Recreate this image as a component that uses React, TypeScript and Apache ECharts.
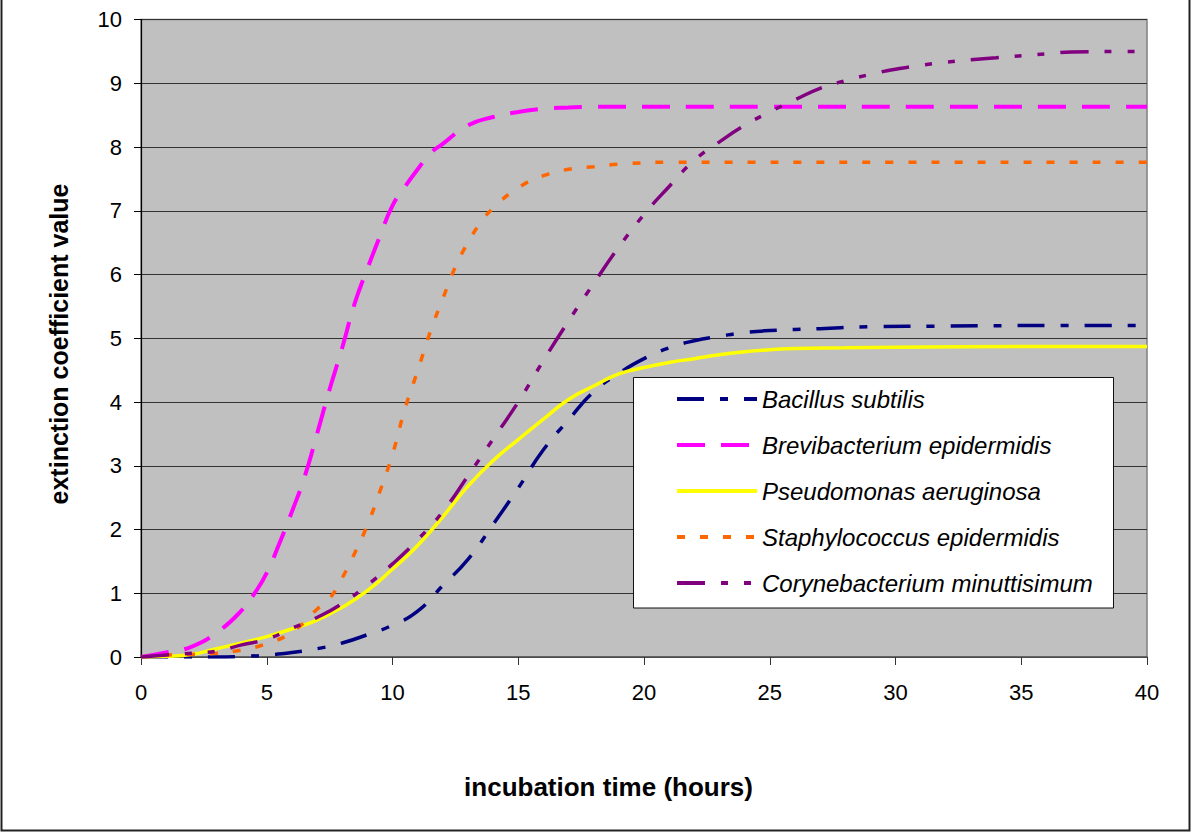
import React, { useEffect, useRef } from "react";
import * as echarts from "echarts";

// ---- data ----
const seriesNames = [
  "Bacillus subtilis",
  "Brevibacterium epidermidis",
  "Pseudomonas aeruginosa",
  "Staphylococcus epidermidis",
  "Corynebacterium minuttisimum",
];

const bacillusT = [0, 1, 2, 3, 4, 5, 6, 7, 8, 9, 10, 11, 12, 13, 14, 15, 16, 17, 18, 19, 20, 21, 22, 23, 24, 25, 27, 29, 32, 36, 40];
const bacillusV = [0, 0, 0, 0, 0.01, 0.03, 0.07, 0.13, 0.22, 0.35, 0.5, 0.72, 1.12, 1.53, 2.08, 2.65, 3.25, 3.72, 4.16, 4.45, 4.68, 4.85, 4.96, 5.03, 5.09, 5.12, 5.15, 5.18, 5.19, 5.2, 5.2];

const brevT = [0, 1, 2, 3, 4, 4.5, 5, 5.5, 6, 6.5, 7, 7.5, 8, 8.5, 9, 9.5, 10, 10.5, 11, 11.5, 12, 13, 14, 15, 16, 17, 18, 25, 32, 40];
const brevV = [0, 0.07, 0.16, 0.38, 0.73, 0.99, 1.32, 1.78, 2.28, 2.82, 3.5, 4.2, 4.85, 5.55, 6.09, 6.6, 7.08, 7.38, 7.65, 7.9, 8.05, 8.34, 8.47, 8.55, 8.6, 8.62, 8.63, 8.63, 8.63, 8.63];

const pseudoT = [0, 1, 2, 3, 4, 5, 6, 7, 8, 9, 10, 11, 12, 13, 14, 15, 16, 17, 18, 19, 20, 21, 22, 23, 24, 25, 26, 28, 30, 35, 40];
const pseudoV = [0, 0.01, 0.04, 0.13, 0.22, 0.32, 0.44, 0.58, 0.78, 1.04, 1.38, 1.75, 2.2, 2.68, 3.08, 3.41, 3.73, 4.04, 4.25, 4.44, 4.54, 4.62, 4.68, 4.74, 4.79, 4.82, 4.84, 4.85, 4.86, 4.87, 4.87];

const staphT = [0, 1, 2, 3, 4, 5, 6, 7, 7.5, 8, 8.5, 9, 9.5, 10, 10.5, 11, 11.5, 12, 12.5, 13, 13.5, 14, 15, 16, 17, 18, 19, 21, 30, 40];
const staphV = [0, 0.03, 0.04, 0.06, 0.11, 0.21, 0.39, 0.75, 0.92, 1.24, 1.63, 2.07, 2.6, 3.18, 3.9, 4.49, 5.1, 5.62, 6.12, 6.5, 6.81, 7.04, 7.36, 7.55, 7.65, 7.69, 7.73, 7.76, 7.76, 7.76];

const coryT = [0, 1, 2, 3, 4, 5, 6, 7, 8, 9, 10, 11, 12, 13, 14, 15, 16, 17, 18, 19, 20, 21, 22, 23, 24, 25, 26, 27, 28, 29, 30, 31, 32, 34, 36, 37, 40];
const coryV = [0, 0.03, 0.06, 0.09, 0.19, 0.28, 0.45, 0.62, 0.84, 1.13, 1.46, 1.84, 2.28, 2.84, 3.42, 4.0, 4.65, 5.27, 5.86, 6.43, 6.94, 7.38, 7.79, 8.08, 8.34, 8.55, 8.74, 8.92, 9.04, 9.14, 9.22, 9.28, 9.33, 9.4, 9.46, 9.49, 9.5];

const xTicks = { min: 0, max: 40, interval: 5 };
const yTicks = { min: 0, max: 10, interval: 1 };

const colors = ["#000080", "#FF00FF", "#FFFF00", "#FF6600", "#800080"];
const dashes: (number[] | "solid")[] = [
  [27, 16, 8, 16],
  [28, 16],
  "solid",
  [8, 15],
  [28, 16, 7, 16, 7, 16],
];

const FONT = "'Liberation Sans', Arial, sans-serif";

function zip(t: number[], v: number[]) {
  return t.map((x, i) => [x, v[i]]);
}

export default function App() {
  const ref = useRef<HTMLDivElement>(null);

  useEffect(() => {
    if (!ref.current) return;
    const chart = echarts.init(ref.current, undefined, { renderer: "svg" });
    const datasets = [
      zip(bacillusT, bacillusV),
      zip(brevT, brevV),
      zip(pseudoT, pseudoV),
      zip(staphT, staphV),
      zip(coryT, coryV),
    ];
    chart.setOption({
      animation: false,
      backgroundColor: "#ffffff",
      grid: {
        left: 141,
        right: 45,
        top: 19.5,
        bottom: 176,
        show: true,
        backgroundColor: "#C0C0C0",
        borderColor: "#808080",
        borderWidth: 1.5,
      },
      xAxis: {
        type: "value",
        min: xTicks.min,
        max: xTicks.max,
        interval: xTicks.interval,
        axisLine: { show: true, lineStyle: { color: "#555555", width: 1.5 } },
        axisTick: { show: true, length: 8, lineStyle: { color: "#333333", width: 1 } },
        axisLabel: { margin: 24, fontSize: 22, color: "#000", fontFamily: FONT },
        splitLine: { show: false },
      },
      yAxis: {
        type: "value",
        min: yTicks.min,
        max: yTicks.max,
        interval: yTicks.interval,
        axisLine: { show: true, lineStyle: { color: "#000000", width: 1.2 } },
        axisTick: { show: true, length: 7, lineStyle: { color: "#000", width: 1 } },
        axisLabel: { margin: 19, fontSize: 22, color: "#000", fontFamily: FONT },
        splitLine: { show: true, lineStyle: { color: "#333333", width: 1.2 } },
      },
      legend: {
        orient: "vertical",
        left: 675,
        top: 387,
        padding: 0,
        itemWidth: 80,
        itemHeight: 24,
        itemGap: 22,
        data: seriesNames,
        itemStyle: { opacity: 0, borderWidth: 0 },
        lineStyle: { width: 4 },
        textStyle: {
          fontSize: 24,
          fontStyle: "italic",
          fontFamily: FONT,
          color: "#000",
          lineHeight: 24,
        },
      },
      graphic: [
        {
          type: "rect",
          z: 3,
          shape: { x: 633.5, y: 377.5, width: 480, height: 230.5 },
          style: { fill: "#ffffff", stroke: "#111111", lineWidth: 1 },
        },
        {
          type: "rect",
          z: 10,
          shape: { x: 1.5, y: -5, width: 1188, height: 835.5 },
          style: { fill: "none", stroke: "#222222", lineWidth: 2 },
        },
        {
          type: "text",
          z: 10,
          x: 608.5,
          y: 787,
          style: {
            text: "incubation time (hours)",
            font: `bold 26px ${FONT}`,
            fill: "#000",
            align: "center",
            verticalAlign: "middle",
          },
        },
        {
          type: "text",
          z: 10,
          x: 58.5,
          y: 344,
          rotation: Math.PI / 2,
          style: {
            text: "extinction coefficient value",
            font: `bold 25px ${FONT}`,
            fill: "#000",
            align: "center",
            verticalAlign: "middle",
          },
        },
      ],
      series: seriesNames.map((name, i) => ({
        name,
        type: "line",
        data: datasets[i],
        symbol: "none",
        showSymbol: false,
        smooth: 0.5,
        color: colors[i],
        lineStyle: {
          color: colors[i],
          width: i === 1 ? 4 : 3.5,
          type: dashes[i],
        },
        z: 2,
      })),
    });
    return () => chart.dispose();
  }, []);

  return (
    <div
      ref={ref}
      style={{ position: "absolute", left: 0, top: 0, width: 1192, height: 833, background: "#fff" }}
    />
  );
}
